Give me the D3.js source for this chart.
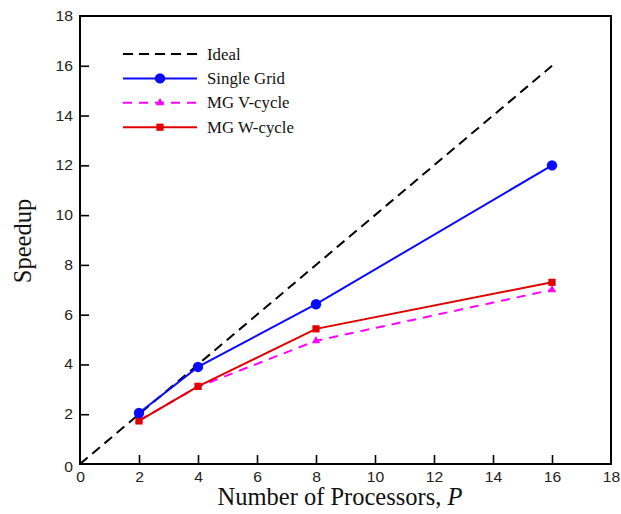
<!DOCTYPE html>
<html>
<head>
<meta charset="utf-8">
<script src="https://cdn.jsdelivr.net/npm/d3@7"></script>
<style>
  html, body { margin: 0; padding: 0; background: #fff; }
  svg { display: block; }
</style>
</head>
<body>
<svg id="chart" width="621" height="514"></svg>
<script>
// Speedup versus number of processors
const processors = [2, 4, 8, 16];
const idealX = [0, 16];
const idealY = [0, 16];
const singleGrid = [2.05, 3.9, 6.42, 12.0];
const mgVCycle = [1.75, 3.1, 4.95, 7.0];
const mgWCycle = [1.73, 3.12, 5.43, 7.3];
const xTicks = [0, 2, 4, 6, 8, 10, 12, 14, 16, 18];
const yTicks = [0, 2, 4, 6, 8, 10, 12, 14, 16, 18];

const svg = d3.select("#chart");
const margin = { left: 80, top: 16, right: 10, bottom: 50 };
const W = 621, H = 514;
const x = d3.scaleLinear().domain([0, 18]).range([margin.left, W - margin.right]);
const y = d3.scaleLinear().domain([0, 18]).range([H - margin.bottom, margin.top]);

const tickFont = "Liberation Sans, Arial, sans-serif";
const serif = "Liberation Serif, Times New Roman, serif";
const wide = 1.12; // horizontal stretch of the tick numerals

// Axes with inward ticks
const gx = svg.append("g").attr("transform", `translate(0,${y(0)})`)
  .call(d3.axisBottom(x).tickValues(xTicks).tickSizeInner(-9).tickSizeOuter(0).tickPadding(5));
const gy = svg.append("g").attr("transform", `translate(${x(0)},0)`)
  .call(d3.axisLeft(y).tickValues(yTicks).tickSizeInner(-9).tickSizeOuter(0).tickPadding(7));
[gx, gy].forEach(g => {
  g.selectAll(".domain").remove();
  g.selectAll(".tick line").attr("stroke", "#000").attr("stroke-width", 1.6);
  g.selectAll(".tick text").attr("font-family", tickFont).attr("font-size", 14).attr("fill", "#222");
});
gx.selectAll(".tick text").attr("dy", "0.9em").attr("transform", `scale(${wide},1)`);
gy.selectAll(".tick text").attr("x", -7 / wide).attr("transform", `scale(${wide},1)`);
gy.selectAll(".tick text").filter(d => d === 0).attr("dy", "0.5em");
// no tick marks on the frame corners
gx.selectAll(".tick line").filter(d => d === 0 || d === 18).remove();
gy.selectAll(".tick line").filter(d => d === 0 || d === 18).remove();

// Frame
svg.append("rect")
  .attr("x", x(0)).attr("y", y(18))
  .attr("width", x(18) - x(0)).attr("height", y(0) - y(18))
  .attr("fill", "none").attr("stroke", "#000").attr("stroke-width", 2);

// Axis titles
svg.append("text")
  .attr("x", 340).attr("y", 505)
  .attr("text-anchor", "middle")
  .attr("font-family", serif).attr("font-size", 24.5).attr("fill", "#111")
  .text("Number of Processors, ")
  .append("tspan").attr("font-style", "italic").text("P");
svg.append("text")
  .attr("transform", `translate(31,241) rotate(-90)`)
  .attr("text-anchor", "middle")
  .attr("font-family", serif).attr("font-size", 24.5).attr("fill", "#111")
  .text("Speedup");

const line = d3.line().x(d => x(d[0])).y(d => y(d[1]));

// Ideal
svg.append("path")
  .datum(idealX.map((v, i) => [v, idealY[i]]))
  .attr("d", line).attr("fill", "none")
  .attr("stroke", "#000").attr("stroke-width", 2).attr("stroke-dasharray", "10,6");

const series = [
  { name: "MG V-cycle", vals: mgVCycle, color: "#ff00ff", dash: "9,7", width: 2, marker: "triangle" },
  { name: "MG W-cycle", vals: mgWCycle, color: "#e00000", dash: null, width: 2, marker: "square" },
  { name: "Single Grid", vals: singleGrid, color: "#0a0aff", dash: null, width: 2, marker: "circle" }
];

function drawMarker(g, type, cx, cy, color) {
  if (type === "circle") {
    g.append("circle").attr("cx", cx).attr("cy", cy).attr("r", 5.2).attr("fill", color);
  } else if (type === "square") {
    g.append("rect").attr("x", cx - 3.6).attr("y", cy - 3.6).attr("width", 7.2).attr("height", 7.2).attr("fill", color);
  } else {
    g.append("path").attr("d", d3.symbol().type(d3.symbolTriangle).size(30)()).attr("transform", `translate(${cx},${cy})`).attr("fill", color);
  }
}

series.forEach(s => {
  const pts = processors.map((p, i) => [p, s.vals[i]]);
  svg.append("path").datum(pts).attr("d", line).attr("fill", "none")
    .attr("stroke", s.color).attr("stroke-width", s.width)
    .attr("stroke-dasharray", s.dash);
  const g = svg.append("g");
  pts.forEach(d => drawMarker(g, s.marker, x(d[0]), y(d[1]), s.color));
});

// Legend
const legendItems = [
  { name: "Ideal", color: "#000", dash: "10,6", marker: null },
  { name: "Single Grid", color: "#0a0aff", dash: null, marker: "circle" },
  { name: "MG V-cycle", color: "#ff00ff", dash: "9,7", marker: "triangle" },
  { name: "MG W-cycle", color: "#e00000", dash: null, marker: "square" }
];
const lg = svg.append("g");
legendItems.forEach((it, i) => {
  const ly = 54 + i * 24.4;
  lg.append("line").attr("x1", 123).attr("x2", 197).attr("y1", ly).attr("y2", ly)
    .attr("stroke", it.color).attr("stroke-width", 2).attr("stroke-dasharray", it.dash);
  if (it.marker) drawMarker(lg, it.marker, 160, ly, it.color);
  lg.append("text").attr("x", 207).attr("y", ly + 5.5)
    .attr("font-family", serif).attr("font-size", 16.8).attr("fill", "#111")
    .text(it.name);
});
</script>
</body>
</html>
